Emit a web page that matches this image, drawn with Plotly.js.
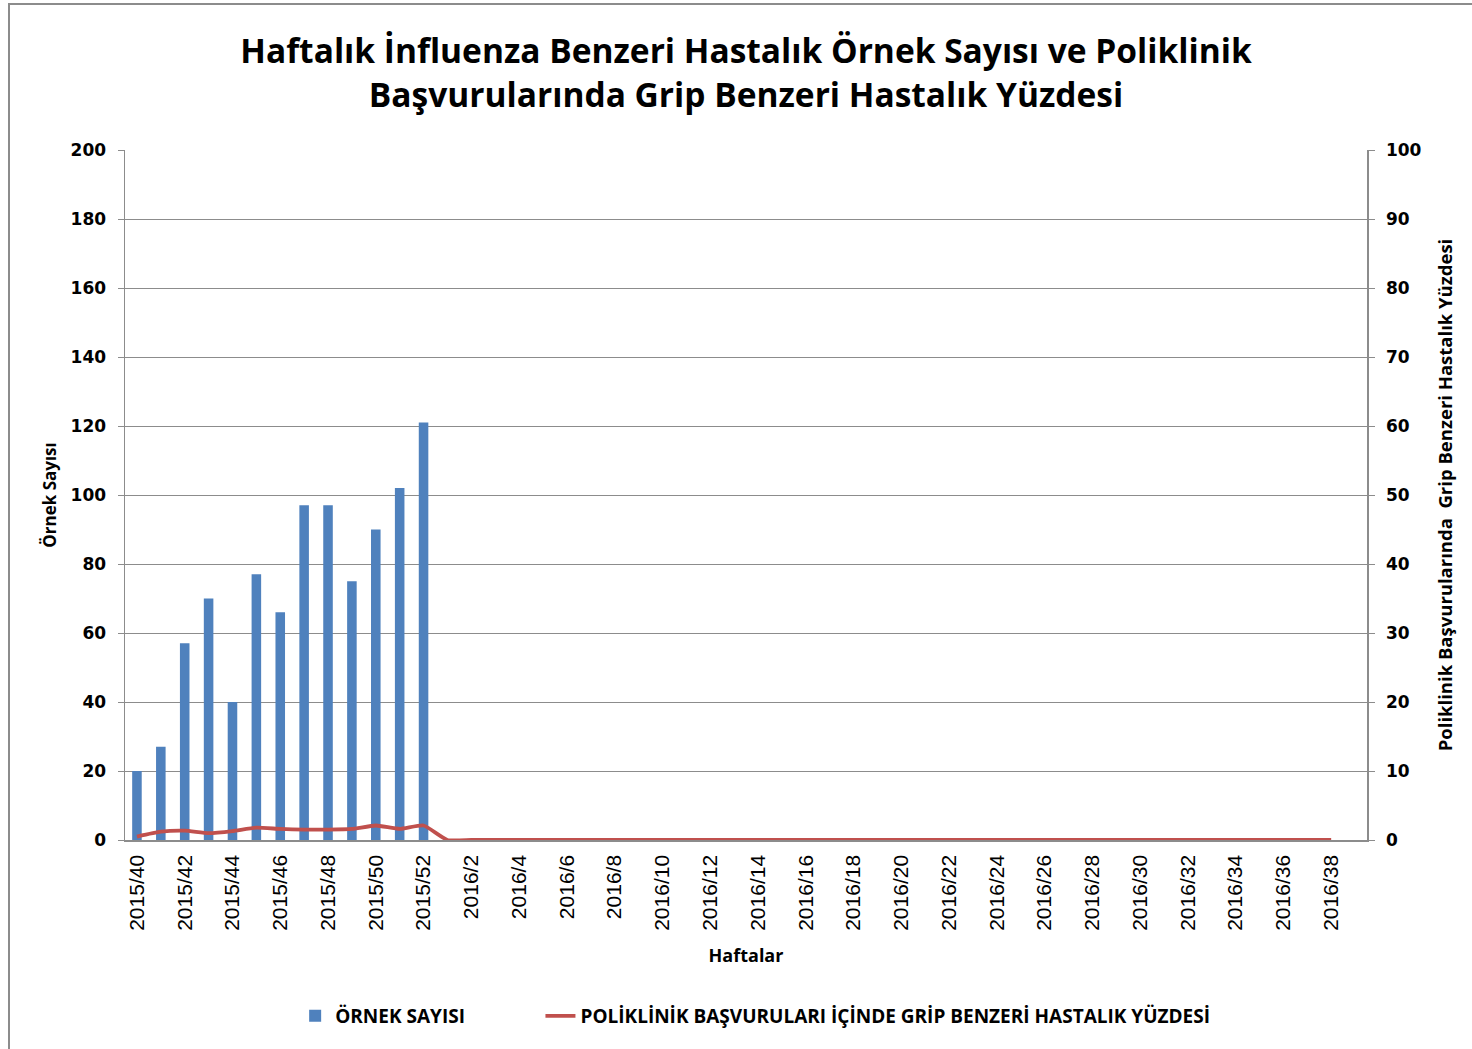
<!DOCTYPE html>
<html>
<head>
<meta charset="utf-8">
<script src="https://cdn.plot.ly/plotly-3.0.1.min.js"></script>
<style>
  html, body { margin: 0; padding: 0; background: #ffffff; }
  #chart { position: absolute; left: 0; top: 0; width: 1472px; height: 1049px; }
  #frame { position: absolute; left: 8px; top: 3px; width: 1480px; height: 1060px; border: 2px solid #8c8c8c; pointer-events: none; }
</style>
</head>
<body>
<div id="chart"></div>
<div id="frame"></div>
<script>
// Weeks (categories)
const weeks2015 = [40,41,42,43,44,45,46,47,48,49,50,51,52];
const weeks2016 = [1,2,3,4,5,6,7,8,9,10,11,12,13,14,15,16,17,18,19,20,21,22,23,24,25,26,27,28,29,30,31,32,33,34,35,36,37,38,39];
const categories = weeks2015.map(w => '2015/' + w).concat(weeks2016.map(w => '2016/' + w));

// Örnek sayısı (bars)
const ornekSayisi = [20, 27, 57, 70, 40, 77, 66, 97, 97, 75, 90, 102, 121];

// Poliklinik başvuruları içinde grip benzeri hastalık yüzdesi (line)
const gbhYuzdesi = [0.5, 1.2, 1.35, 1.0, 1.3, 1.8, 1.6, 1.5, 1.5, 1.6, 2.1, 1.6, 2.1,
  0,0,0,0,0,0,0,0,0,0,0,0,0,0,0,0,0,0,0,0,0,0,0,0,0,0,0,0,0,0,0,0,0,0,0,0,0,0,null];

// Tick labels every other week
const tickLabels = categories.filter((c, i) => i % 2 === 0);

const mainFont = '"Open Sans", Lato, sans-serif';
const tickFont = '"DejaVu Sans", Verdana, sans-serif';

const traces = [
  {
    type: 'bar',
    name: 'ÖRNEK SAYISI',
    x: categories.slice(0, ornekSayisi.length),
    y: ornekSayisi,
    marker: { color: '#4F81BD' },
    yaxis: 'y',
    legend: 'legend'
  },
  {
    type: 'scatter',
    mode: 'lines',
    name: 'POLİKLİNİK BAŞVURULARI İÇİNDE GRİP BENZERİ HASTALIK YÜZDESİ',
    x: categories,
    y: gbhYuzdesi,
    line: { color: '#C0504D', width: 3.8, shape: 'spline', smoothing: 0.5 },
    yaxis: 'y2',
    legend: 'legend2'
  }
];

const legendFont = { family: mainFont, size: 19, color: '#000000', weight: 'bold' };

const layout = {
  width: 1472,
  height: 1049,
  paper_bgcolor: '#ffffff',
  plot_bgcolor: '#ffffff',
  margin: { l: 125, r: 105, t: 150, b: 209 },
  bargap: 0.6,
  showlegend: true,
  title: {
    text: '<b>Haftalık İnfluenza Benzeri Hastalık Örnek Sayısı ve Poliklinik<br>Başvurularında Grip Benzeri Hastalık Yüzdesi</b>',
    font: { family: mainFont, size: 33.5, color: '#000000' },
    x: 0.5, xref: 'paper', xanchor: 'center',
    y: 0.9396, yref: 'container', yanchor: 'middle'
  },
  xaxis: {
    type: 'category',
    categoryorder: 'array',
    categoryarray: categories,
    range: [-0.5, categories.length - 0.5],
    tickmode: 'array',
    tickvals: tickLabels,
    ticktext: tickLabels,
    tickangle: -90,
    tickfont: { family: '"Liberation Sans", Arial, sans-serif', size: 21, color: '#000000' },
    ticklabelstandoff: 5,
    showline: true,
    linecolor: '#8c8c8c',
    linewidth: 1.5,
    ticks: '',
    showgrid: false,
    zeroline: false,
    title: {
      text: '<b>Haftalar</b>',
      font: { family: mainFont, size: 18, color: '#000000' },
      standoff: 19
    }
  },
  yaxis: {
    range: [0, 200],
    dtick: 20,
    tickfont: { family: tickFont, size: 17, color: '#000000', weight: 'bold' },
    ticklabelstandoff: 8,
    showline: true,
    linecolor: '#8c8c8c',
    linewidth: 1.5,
    ticks: 'outside',
    ticklen: 6,
    tickcolor: '#8c8c8c',
    showgrid: true,
    gridcolor: '#8c8c8c',
    gridwidth: 1,
    zeroline: false,
    title: {
      text: '<b>Örnek Sayısı</b>',
      font: { family: mainFont, size: 17, color: '#000000' },
      standoff: 9
    }
  },
  yaxis2: {
    overlaying: 'y',
    side: 'right',
    range: [0, 100],
    dtick: 10,
    tickfont: { family: tickFont, size: 17, color: '#000000', weight: 'bold' },
    ticklabelstandoff: 8,
    showline: true,
    linecolor: '#8c8c8c',
    linewidth: 1.5,
    ticks: 'outside',
    ticklen: 6,
    tickcolor: '#8c8c8c',
    showgrid: false,
    zeroline: false,
    title: {
      text: '<b>Poliklinik Başvurularında  Grip Benzeri Hastalık Yüzdesi</b>',
      font: { family: mainFont, size: 18.5, color: '#000000' },
      standoff: 18
    }
  },
  legend: {
    orientation: 'h',
    x: 0.137, xanchor: 'left',
    y: -0.255, yanchor: 'middle',
    font: legendFont,
    bgcolor: 'rgba(0,0,0,0)'
  },
  legend2: {
    orientation: 'h',
    x: 0.3345, xanchor: 'left',
    y: -0.255, yanchor: 'middle',
    font: legendFont,
    bgcolor: 'rgba(0,0,0,0)'
  }
};

Plotly.newPlot('chart', traces, layout, { displayModeBar: false, staticPlot: true });
</script>
</body>
</html>
